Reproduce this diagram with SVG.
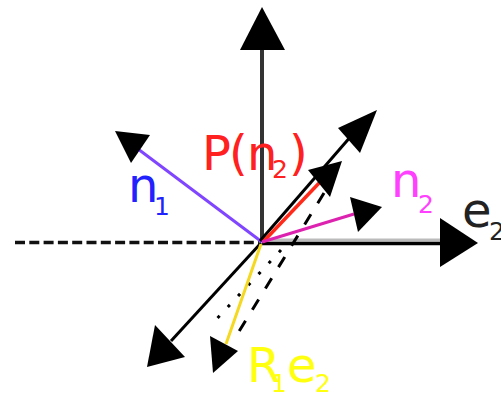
<svg xmlns="http://www.w3.org/2000/svg" width="501" height="393" viewBox="0 0 501 393">
<style>
.lbl{font-family:"DejaVu Sans",sans-serif;font-size:48px}
.sub{font-size:25px}
.head{fill:#000}
.ln{fill:none;stroke-linecap:butt}
</style>
<rect width="501" height="393" fill="#fff"/>
<g id="connectors">
  <line class="ln" x1="15" y1="242.5" x2="259" y2="242.5" stroke="#111" stroke-width="3.5" stroke-dasharray="10 4.3"/>
  <line class="ln" x1="262" y1="240" x2="442" y2="240" stroke="#bbb" stroke-width="3"/>
  <line class="ln" x1="262" y1="243.5" x2="442" y2="243.5" stroke="#000" stroke-width="3.5"/>
  <polygon class="head" points="478,243 440,218 440,267"/>
  <line class="ln" x1="262" y1="242" x2="262" y2="48" stroke="#333" stroke-width="4"/>
  <polygon class="head" points="262,7 240,50 285,50"/>
  <line class="ln" x1="262" y1="242" x2="138" y2="149" stroke="#7f45ff" stroke-width="3"/>
  <polygon class="head" points="115,131 150,135 131,163"/>
  <line class="ln" x1="260" y1="241" x2="352" y2="135" stroke="#000" stroke-width="3"/>
  <polygon class="head" points="377,110 338,128 360,153"/>
  <line class="ln" x1="263" y1="242" x2="321" y2="181" stroke="#ff2a1a" stroke-width="3.5"/>
  <polygon class="head" points="342,161 308,170 330,197"/>
  <line class="ln" x1="262" y1="242" x2="354" y2="214" stroke="#dd22b0" stroke-width="3"/>
  <polygon class="head" points="382,207 350,197 358,232"/>
  <line class="ln" x1="324" y1="193" x2="235" y2="338" stroke="#000" stroke-width="3" stroke-dasharray="12 13"/>
  <line class="ln" x1="281" y1="250" x2="212" y2="324" stroke="#000" stroke-width="3" stroke-dasharray="3 12"/>
  <line class="ln" x1="261" y1="243" x2="171" y2="341" stroke="#000" stroke-width="3"/>
  <polygon class="head" points="147,367 155,325 185,357"/>
  <line class="ln" x1="261" y1="244" x2="226" y2="344" stroke="#f5d820" stroke-width="3"/>
  <polygon class="head" points="213,373 210,336 238,351"/>
</g>
<g id="label-n1" fill="#2222ff">
  <text class="lbl" x="128" y="202">n</text>
  <text class="lbl sub" x="154" y="215">1</text>
</g>
<g id="label-Pn2" fill="#ff2020">
  <text class="lbl" x="202" y="170">P</text>
  <text class="lbl" x="229" y="170">(</text>
  <text class="lbl" x="247" y="170">n</text>
  <text class="lbl sub" x="272" y="178">2</text>
  <text class="lbl" x="289" y="170">)</text>
</g>
<g id="label-n2" fill="#ff40ff">
  <text class="lbl" x="391" y="197">n</text>
  <text class="lbl sub" x="418" y="213">2</text>
</g>
<g id="label-e2" fill="#222">
  <text class="lbl" x="462" y="227">e</text>
  <text class="lbl sub" x="489" y="240">2</text>
</g>
<g id="label-R1e2" fill="#ffff10">
  <text class="lbl" x="247" y="382">R</text>
  <text class="lbl sub" x="271" y="392">1</text>
  <text class="lbl" x="287" y="382">e</text>
  <text class="lbl sub" x="315" y="392">2</text>
</g>
</svg>
